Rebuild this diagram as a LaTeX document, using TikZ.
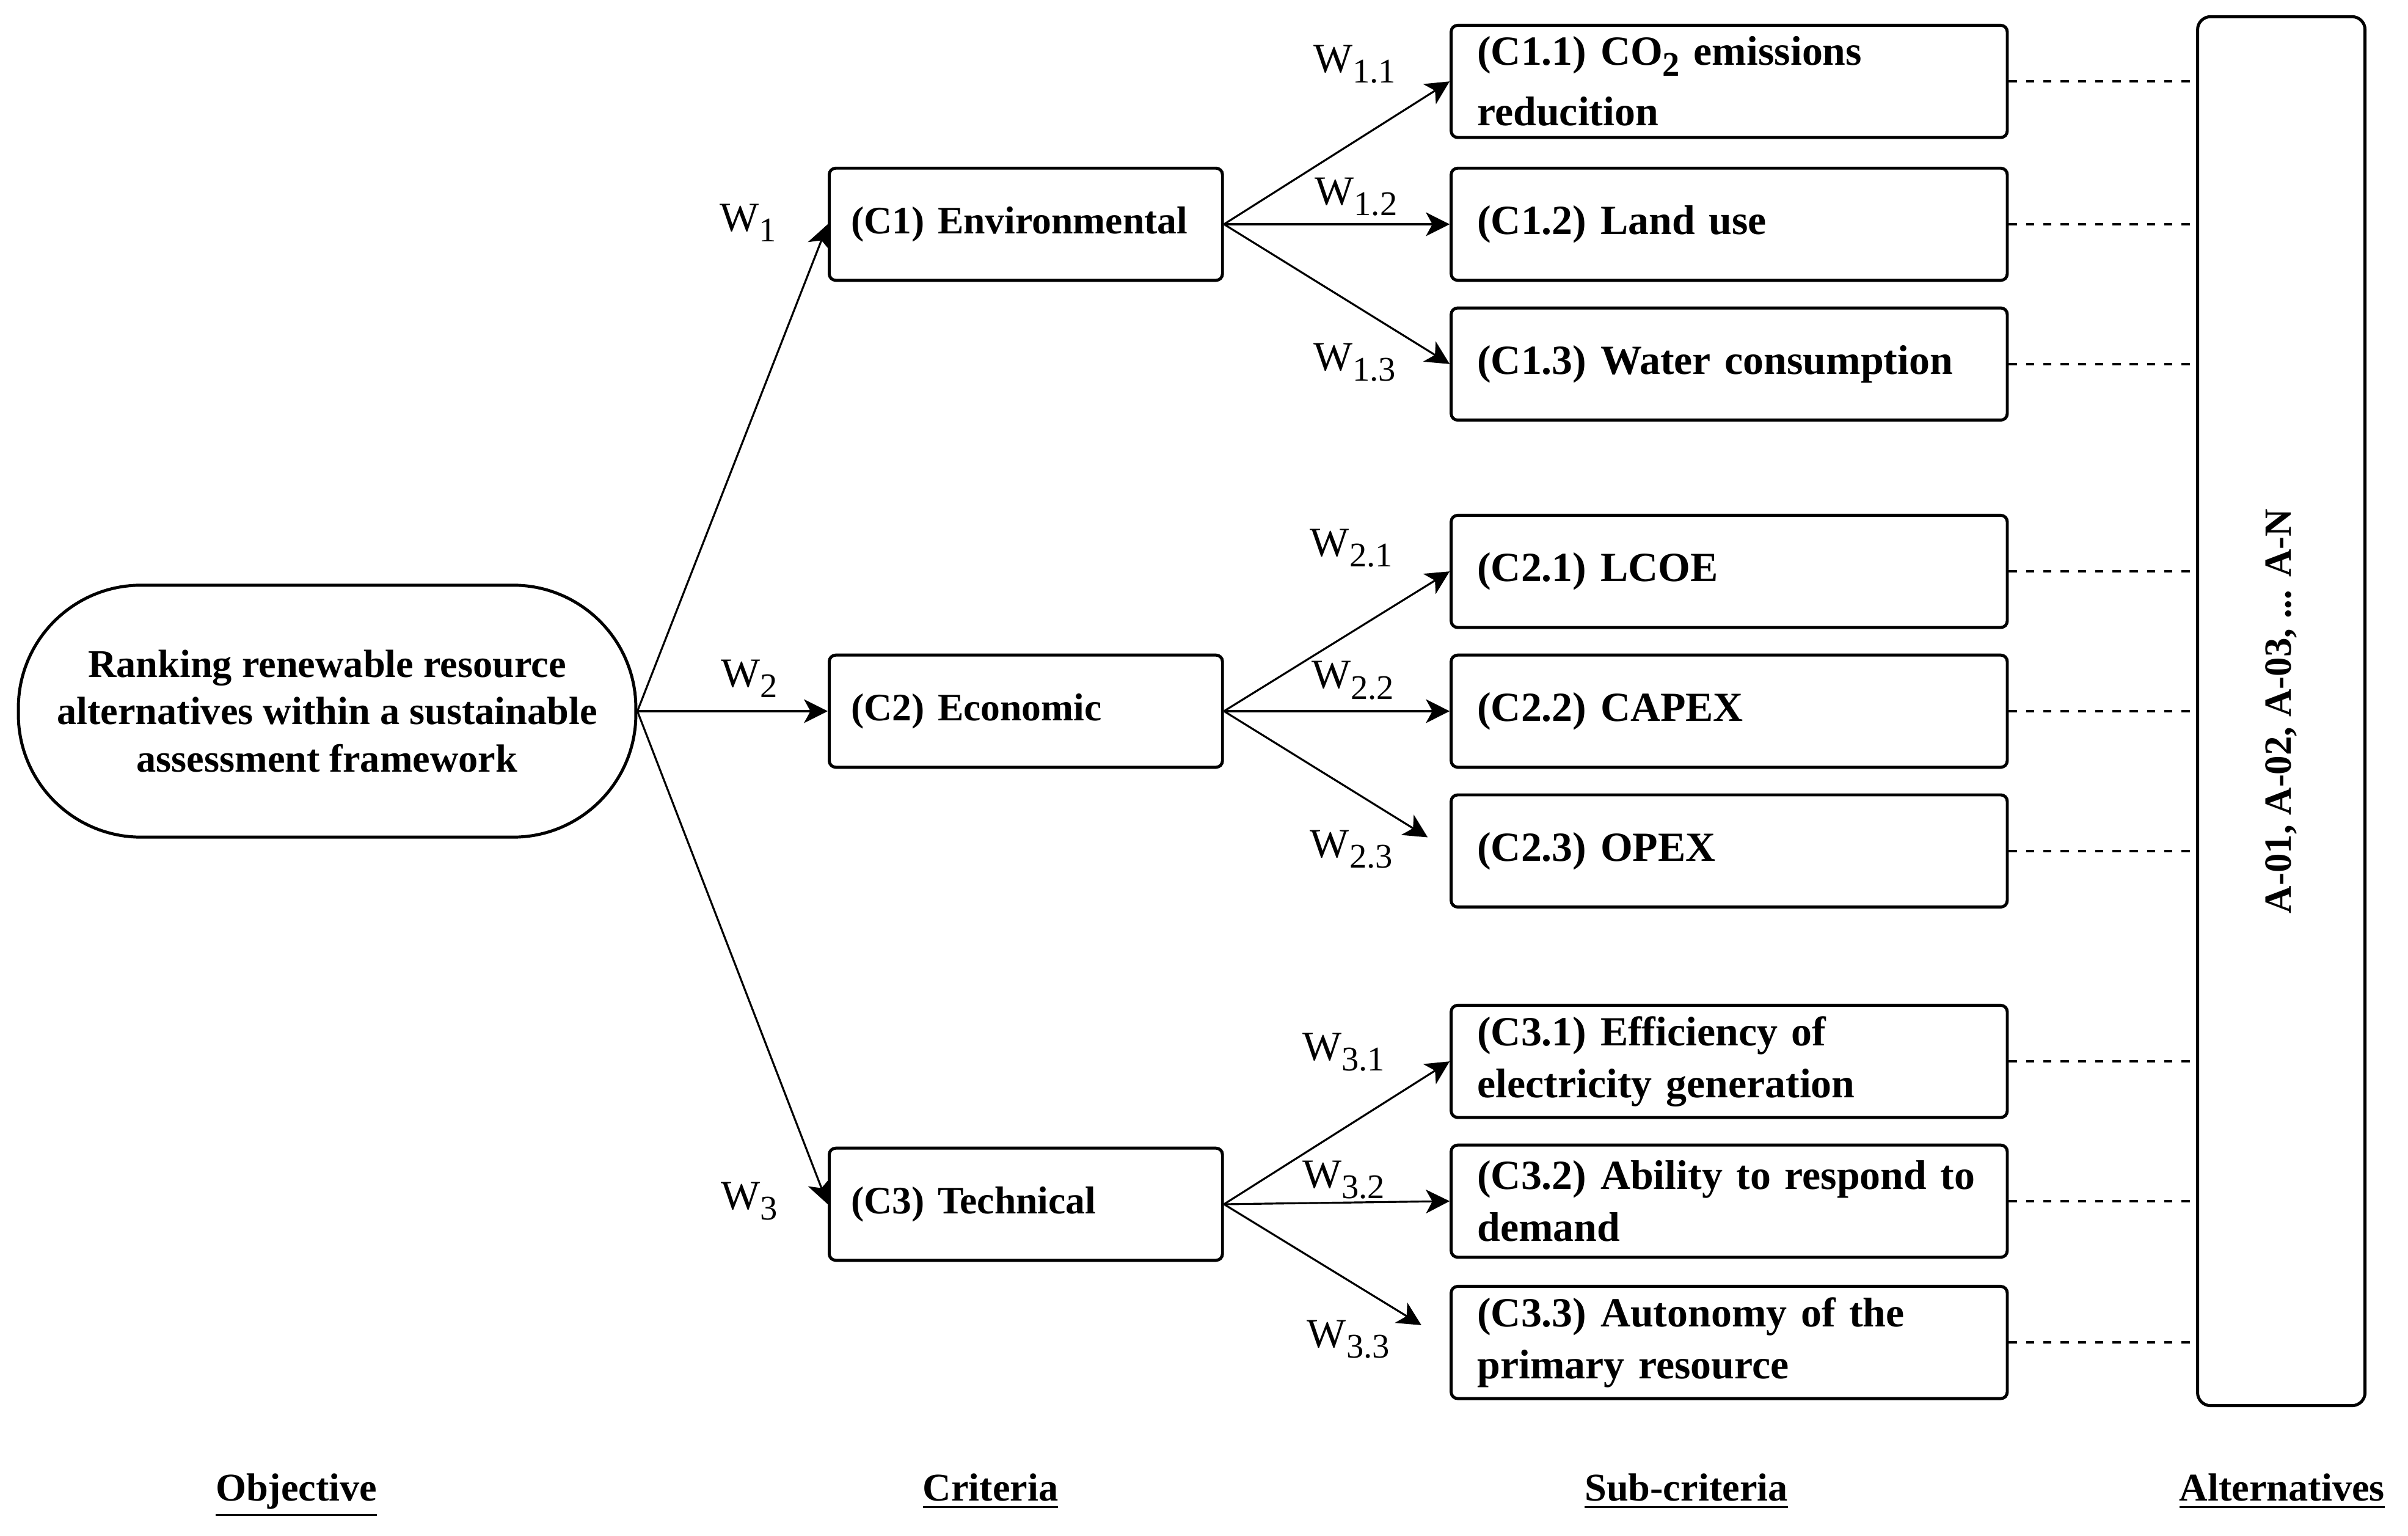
\documentclass[tikz,border=0pt]{standalone}
\usepackage{fontspec}
\setmainfont{Liberation Serif}
\usetikzlibrary{arrows.meta}
\newcommand{\lowsub}[1]{\raisebox{-0.55ex}{\fontsize{8}{9}\selectfont #1}}
\begin{document}
\begin{tikzpicture}
[x=0.0125cm,y=-0.0125cm,
  objdecorate/.style={draw,line width=0.7pt,rounded corners=1cm,minimum width=5.025cm,%
    minimum height=2.05cm,align=center,font=\bfseries\fontsize{9.1}{11}\selectfont},%
  critdecorate/.style={draw,line width=0.7pt,rounded corners=1.5pt,minimum height=0.9125cm,%
    inner xsep=0.18cm,text width=2.84cm,align=left,font=\bfseries\fontsize{9}{11}\selectfont},%
  subdecorate/.style={draw,line width=0.7pt,rounded corners=1.5pt,minimum height=0.9125cm,%
    inner xsep=0.2125cm,inner ysep=1pt,text width=4.1cm,align=left,font=\bfseries\fontsize{9.6}{12}\selectfont},%
  altdecorate/.style={draw,line width=0.7pt,rounded corners=3pt,minimum width=1.3625cm,minimum height=11.3cm},%
  arrowdecorate/.style={-{Stealth[length=5.5pt,width=5.5pt,inset=1.5pt]},line width=0.45pt},%
  linedecorate/.style={-,line width=0.6pt,dash pattern=on 1.9pt off 2.1pt},%
  weightdecorate/.style={inner sep=0pt,font=\fontsize{9.6}{11}\selectfont},%
  leveldecorate/.style={anchor=base,font=\bfseries\fontsize{9.1}{11}\selectfont}]
\useasboundingbox (0,0) rectangle (1568,1000);
%% objective
\node (obj) at (213,463) [objdecorate] {Ranking renewable resource\\alternatives within a sustainable\\assessment framework};
%% criteria
\foreach \nodename/\y/\nodetext in {c1/146/{(C1) Environmental},
  c2/463/{(C2) Economic}, c3/784/{(C3) Technical}} {
  \node (\nodename) at (668,\y) [critdecorate] {\nodetext};
}
%% sub-criteria
\foreach \nodename/\y/\nodetext in {c11/53/{(C1.1) CO\lowsub{\bfseries 2} emissions\\[2pt]reducition},
  c12/146/{(C1.2) Land use}, c13/237/{(C1.3) Water consumption},
  c21/372/{(C2.1) LCOE}, c22/463/{(C2.2) CAPEX}, c23/554/{(C2.3) OPEX},
  c31/691/{(C3.1) Efficiency of\\electricity generation},
  c32/782/{(C3.2) Ability to respond to\\demand},
  c33/874/{(C3.3) Autonomy of the\\primary resource}} {
  \node (\nodename) at (1126,\y) [subdecorate] {\nodetext};
}
%% alternatives
\node (alt) at (1485.5,463) [altdecorate] {};
\node (alttext) at (alt.center) [rotate=90,font=\bfseries\fontsize{8.9}{11}\selectfont] {A-01, A-02, A-03, ... A-N};
%% weights
\foreach \nodename/\x/\y/\nodetext in {w1/487/145/1, w2/488/442/2, w3/488/782/3,
  w11/882/42/1.1, w12/883/128/1.2, w13/882/236/1.3,
  w21/880/357/2.1, w22/881/443/2.2, w23/880/553/2.3,
  w31/875/685/3.1, w32/875/768/3.2, w33/878/872/3.3} {
  \node (\nodename) at (\x,\y) [weightdecorate] {W\lowsub{\nodetext}};
}
%% level titles
\node (lobj) at (193,977) [leveldecorate] {\underline{Objective}};
\node (lcrit) at (645,977) [leveldecorate] {\underline{Criteria}};
\node (lsub) at (1098,977) [leveldecorate] {\underline{Sub-criteria}};
\node (lalt) at (1486,977) [leveldecorate] {\underline{Alternatives}};
%% edges
\path
(obj.east) edge[arrowdecorate] (c1.west)
(obj.east) edge[arrowdecorate] (c2.west)
(obj.east) edge[arrowdecorate] (c3.west)
(c1.east) edge[arrowdecorate] (c11.west)
(c1.east) edge[arrowdecorate] (c12.west)
(c1.east) edge[arrowdecorate] (c13.west)
(c2.east) edge[arrowdecorate] (c21.west)
(c2.east) edge[arrowdecorate] (c22.west)
(c2.east) edge[arrowdecorate,shorten >=0.21cm] (c23.west)
(c3.east) edge[arrowdecorate] (c31.west)
(c3.east) edge[arrowdecorate] (c32.west)
(c3.east) edge[arrowdecorate,shorten >=0.27cm] (c33.west);
%% links to alternatives
\foreach \nodename in {c11,c12,c13,c21,c22,c23,c31,c32,c33} {
  \draw[linedecorate] (\nodename.east) -- (\nodename.east -| alt.west);
}
\end{tikzpicture}
\end{document}
